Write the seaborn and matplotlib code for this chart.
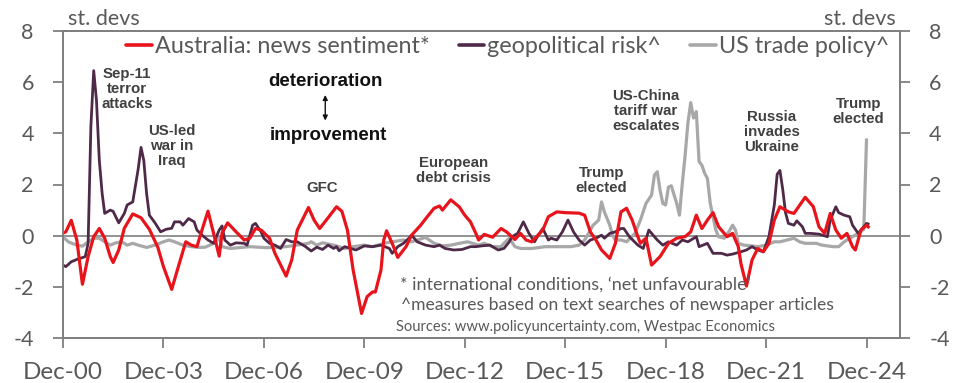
import matplotlib
matplotlib.use("Agg")
import matplotlib.pyplot as plt
from matplotlib.lines import Line2D
import pandas as pd
import seaborn as sns

sns.set_theme(style="white")
plt.rcParams["font.family"] = ["Lato", "DejaVu Sans"]

# Monthly readings, indexed as months since Dec-2000 (standard deviations)
news_months = [0, 1, 3, 5, 7, 9, 11, 13, 15, 17,
               18, 20, 22, 25, 28, 31, 34, 36, 39, 41,
               44, 46, 48, 50, 52, 54, 56, 57, 59, 62,
               65, 67, 69, 71, 74, 76, 80, 82, 84, 88,
               90, 92, 95, 98, 100, 102, 104, 107, 109, 111,
               112, 114, 115, 116, 118, 120, 123, 125, 128, 131,
               133, 135, 136, 139, 142, 144, 146, 148, 149, 151,
               154, 157, 159, 162, 164, 166, 168, 172, 174, 177,
               180, 185, 187, 189, 191, 193, 196, 198, 200, 202,
               204, 206, 207, 209, 211, 214, 217, 220, 223, 225,
               227, 229, 231, 233, 235, 238, 240, 242, 243, 245,
               247, 249, 251, 253, 255, 257, 260, 262, 266, 269,
               271, 273, 275, 277, 279, 281, 283, 284, 286, 288,
               289]
news_values = [0.1, 0.15, 0.6, -0.17, -1.9, -0.82, -0.04, 0.28, -0.1, -0.82,
               -1.05, -0.56, 0.29, 0.85, 0.7, 0.25, -0.45, -1.2, -2.1, -1.35,
               -0.24, -0.37, -0.43, 0.3, 0.96, 0.09, -0.8, 0.1, 0.5, 0.15,
               -0.17, -0.1, 0.28, 0.22, -0.1, -0.69, -1.58, -0.95, 0.22, 1.1,
               0.61, 0.28, 0.7, 1.13, 0.95, 0.2, -1.34, -3.04, -2.38, -2.2,
               -2.2, -1.34, -0.17, 0.19, -0.3, -0.85, -0.43, 0.02, 0.38, 0.8,
               1.07, 1.16, 1.0, 1.4, 1.13, 0.8, 0.54, 0.09, -0.17, 0.05,
               -0.06, 0.28, 0.15, -0.15, 0.09, -0.17, -0.24, 0.22, 0.74, 0.93,
               0.9, 0.88, 0.8, 0.15, -0.17, -0.56, -0.89, -0.3, 0.93, 1.07,
               0.61, -0.04, -0.3, -0.1, -1.15, -0.82, -0.3, -0.1, -0.04, 0.15,
               0.8, 0.28, 0.61, 0.9, 0.35, -0.04, 0.09, -0.43, -1.08, -1.97,
               -0.95, -0.5, -0.63, -0.3, 0.61, 1.13, 0.93, 0.87, 1.5, 1.13,
               0.35, 0.09, 0.87, 0.22, -0.1, 0.09, -0.43, -0.56, 0.22, 0.41,
               0.3]

geo_months = [0, 1, 3, 5, 8, 9, 10, 11, 12, 13,
              14, 15, 17, 18, 20, 22, 23, 25, 27, 28,
              29, 30, 31, 33, 35, 37, 39, 40, 42, 43,
              45, 47, 48, 50, 52, 54, 56, 57, 58, 60,
              62, 65, 66, 68, 69, 71, 72, 74, 76, 78,
              80, 82, 84, 87, 89, 91, 93, 95, 97, 98,
              99, 101, 105, 108, 111, 114, 117, 118, 120, 122,
              124, 125, 127, 130, 133, 135, 137, 140, 143, 146,
              148, 150, 153, 156, 158, 160, 161, 163, 165, 167,
              169, 170, 172, 174, 175, 177, 179, 181, 183, 185,
              187, 189, 191, 193, 194, 196, 198, 200, 201, 203,
              206, 208, 210, 211, 213, 215, 217, 220, 222, 224,
              227, 228, 231, 233, 236, 238, 240, 243, 245, 247,
              249, 251, 253, 255, 256, 257, 258, 259, 260, 262,
              263, 265, 266, 268, 271, 274, 275, 277, 278, 280,
              282, 283, 285, 286, 288, 289]
geo_values = [-1.15, -1.21, -1.02, -0.93, -0.82, -0.3, 4.25, 6.45, 5.3, 2.95,
              1.65, 0.87, 1.0, 0.95, 0.5, 0.87, 1.2, 1.32, 2.6, 3.45,
              2.95, 1.65, 0.8, 0.5, 0.15, 0.25, 0.29, 0.54, 0.54, 0.41,
              0.67, 0.54, 0.22, 0.0, -0.17, -0.3, 0.22, 0.38, -0.17, -0.37,
              -0.28, -0.3, -0.37, 0.41, 0.48, 0.15, -0.1, -0.3, -0.37, -0.5,
              -0.15, -0.24, -0.24, -0.43, -0.6, -0.45, -0.54, -0.37, -0.5, -0.43,
              -0.59, -0.43, -0.56, -0.4, -0.43, -0.37, -0.5, -0.69, -0.43, -0.3,
              -0.1, 0.02, -0.24, -0.37, -0.43, -0.37, -0.5, -0.56, -0.54, -0.43,
              -0.43, -0.4, -0.37, -0.56, -0.5, -0.24, -0.04, 0.09, 0.54, 0.09,
              -0.24, -0.04, 0.28, -0.17, -0.1, -0.17, 0.15, 0.61, 0.15, -0.17,
              -0.37, -0.17, -0.1, 0.02, -0.1, 0.09, 0.15, 0.28, 0.28, -0.04,
              -0.37, -0.5, 0.22, 0.09, -0.17, -0.37, -0.24, -0.37, -0.17, -0.24,
              -0.04, -0.43, -0.3, -0.69, -0.69, -0.76, -0.72, -0.63, -0.56, -0.43,
              -0.56, -0.63, -0.04, 1.2, 2.4, 2.55, 1.8, 0.9, 0.48, 0.41,
              0.58, 0.35, 0.09, 0.09, 0.06, -0.04, 0.61, 1.13, 0.9, 0.8,
              0.74, 0.41, 0.09, 0.22, 0.48, 0.44]

trade_months = [0, 2, 5, 7, 9, 11, 13, 15, 17, 19,
                21, 23, 25, 27, 30, 33, 36, 38, 40, 43,
                46, 49, 51, 54, 56, 57, 60, 67, 73, 80,
                88, 89, 91, 93, 97, 101, 104, 108, 111, 115,
                118, 122, 125, 130, 133, 136, 139, 142, 145, 149,
                151, 154, 157, 158, 160, 162, 164, 168, 173, 178,
                182, 185, 187, 188, 190, 192, 193, 194, 196, 197,
                198, 200, 202, 205, 207, 209, 211, 212, 213, 214,
                215, 216, 217, 218, 220, 221, 222, 223, 224, 225,
                226, 227, 228, 229, 230, 231, 232, 233, 234, 235,
                237, 239, 240, 241, 242, 244, 247, 249, 252, 255,
                257, 262, 264, 266, 270, 272, 276, 278, 280, 282,
                283, 285, 287, 288]
trade_values = [-0.05, -0.25, -0.37, -0.41, -0.24, -0.1, -0.1, -0.24, -0.37, -0.28,
                -0.24, -0.37, -0.3, -0.37, -0.46, -0.37, -0.24, -0.17, -0.24, -0.37,
                -0.43, -0.46, -0.45, -0.3, -0.1, -0.43, -0.5, -0.43, -0.47, -0.43,
                -0.3, -0.24, -0.37, -0.28, -0.37, -0.5, -0.43, -0.37, -0.43, -0.3,
                -0.24, -0.17, -0.24, -0.07, -0.3, -0.4, -0.37, -0.3, -0.24, -0.37,
                -0.3, -0.43, -0.43, -0.3, -0.1, -0.43, -0.5, -0.5, -0.43, -0.43,
                -0.43, -0.37, -0.17, 0.02, 0.41, 0.61, 1.32, 0.93, 0.41, 0.02,
                -0.17, -0.17, -0.24, 0.09, 0.61, 1.26, 1.59, 2.37, 2.5, 1.78,
                1.26, 1.2, 1.9, 1.95, 1.26, 0.8, 2.04, 3.1, 4.4, 5.2,
                4.6, 4.85, 2.9, 2.75, 2.43, 2.24, 1.26, 0.74, 0.22, -0.04,
                -0.1, 0.22, 0.41, 0.22, -0.3, -0.37, -0.4, -0.43, -0.37, -0.24,
                -0.24, -0.1, -0.24, -0.3, -0.3, -0.37, -0.43, -0.43, -0.24, -0.1,
                -0.04, 0.09, 0.25, 3.8]

series_names = ["Australia: news sentiment*", "geopolitical risk^", "US trade policy^"]
series_colors = ["#E8141C", "#4E2A48", "#A8A8A8"]
tick_years = [2000, 2003, 2006, 2009, 2012, 2015, 2018, 2021, 2024]

START = pd.Timestamp("2000-12-01")


def to_dates(months):
    return [START + pd.DateOffset(months=int(m)) for m in months]


frames = []
for name, months, values in zip(series_names,
                                [news_months, geo_months, trade_months],
                                [news_values, geo_values, trade_values]):
    frames.append(pd.DataFrame({"date": to_dates(months), "value": values, "series": name}))
df = pd.concat(frames, ignore_index=True)

TXT = "#595959"
AX = "#7F7F7F"

fig = plt.figure(figsize=(9.66, 3.83), dpi=100)
ax = fig.add_axes([63 / 966, 1 - 338 / 383, 837 / 966, 307 / 383])

ax.axhline(0, color=AX, lw=1.2, zorder=1)

draw_order = [2, 1, 0]
widths = [2.3, 2.0, 2.3]
for i in draw_order:
    sub = df[df["series"] == series_names[i]]
    sns.lineplot(data=sub, x="date", y="value", color=series_colors[i],
                 lw=widths[i], ax=ax, legend=False, zorder=3 + (2 - i),
                 solid_joinstyle="round", solid_capstyle="butt")

ax.set_xlim(START, pd.Timestamp("2025-12-01"))
ax.set_ylim(-4, 8)
ax.set_xlabel("")
ax.set_ylabel("")

xt = [pd.Timestamp(f"{y}-12-01") for y in tick_years]
ax.set_xticks(xt)
ax.set_xticklabels([f"Dec-{y % 100:02d}" for y in tick_years])
yt = list(range(-4, 9, 2))
ax.set_yticks(yt)
ax.set_yticklabels([str(v) for v in yt])

ax2 = ax.twinx()
ax2.set_ylim(-4, 8)
ax2.set_yticks(yt)
ax2.set_yticklabels([str(v) for v in yt])

for a in (ax, ax2):
    for s in a.spines.values():
        s.set_visible(True)
        s.set_color(AX)
        s.set_linewidth(1.3)
    a.tick_params(axis="both", direction="out", length=7, width=1.3, color=AX,
                  labelcolor=TXT)
ax.tick_params(axis="y", labelsize=15.5, pad=14, left=True)
ax.tick_params(axis="x", labelsize=17.5, pad=10, bottom=True)
ax2.tick_params(axis="y", labelsize=15.5, pad=14, right=True)

# Legend across the top of the panel
handles = [Line2D([0], [0], color=c, lw=2.6) for c in series_colors]
ax.legend(handles, series_names, loc="center", bbox_to_anchor=(0.531, 0.948),
          ncol=3, frameon=False, fontsize=16.8, handlelength=1.1,
          handletextpad=0.12, columnspacing=1.25, labelcolor=TXT)

fig.text(68 / 966, 1 - 19 / 383, "st. devs", ha="left", va="center",
         fontsize=15.5, color=TXT)
fig.text(896 / 966, 1 - 19 / 383, "st. devs", ha="right", va="center",
         fontsize=15.5, color=TXT)

# Event labels
ANN = "#404040"
events = [
    (23.3, 5.73, "Sep-11\nterror\nattacks"),
    (39.4, 3.5, "US-led\nwar in\nIraq"),
    (92.8, 1.86, "GFC"),
    (139.8, 2.56, "European\ndebt crisis"),
    (192.8, 2.17, "Trump\nelected"),
    (208.6, 4.87, "US-China\ntariff war\nescalates"),
    (254.5, 4.05, "Russia\ninvades\nUkraine"),
    (285.3, 4.87, "Trump\nelected"),
]
for m, y, label in events:
    ax.text(START + pd.DateOffset(months=int(round(m))), y, label, ha="center",
            va="center", fontsize=10.8, fontweight="bold", color=ANN,
            family="Liberation Sans", linespacing=1.1, zorder=6)

ax.text(START + pd.DateOffset(months=94), 6.04, "deterioration", ha="center",
        va="center", fontsize=13.5, fontweight="bold", color="#111111",
        family="Liberation Sans")
ax.text(START + pd.DateOffset(months=95), 3.93, "improvement", ha="center",
        va="center", fontsize=13.5, fontweight="bold", color="#111111",
        family="Liberation Sans")
arrow_x = START + pd.DateOffset(months=94)
ax.annotate("", xy=(arrow_x, 5.5), xytext=(arrow_x, 4.5),
            arrowprops=dict(arrowstyle="<|-|>", color="#111111", lw=1.0,
                            mutation_scale=7, shrinkA=0, shrinkB=0))

notes = [
    (400, 285, "* international conditions, \u2018net unfavourable\u2019", 13),
    (401, 305, "^measures based on text searches of newspaper articles", 12.6),
    (396, 327, "Sources: www.policyuncertainty.com, Westpac Economics", 10.6),
]
for px, py, txt, fs in notes:
    fig.text(px / 966, 1 - py / 383, txt, ha="left", va="center",
             fontsize=fs, color=TXT, zorder=10)

fig.savefig("out.png", dpi=100)
